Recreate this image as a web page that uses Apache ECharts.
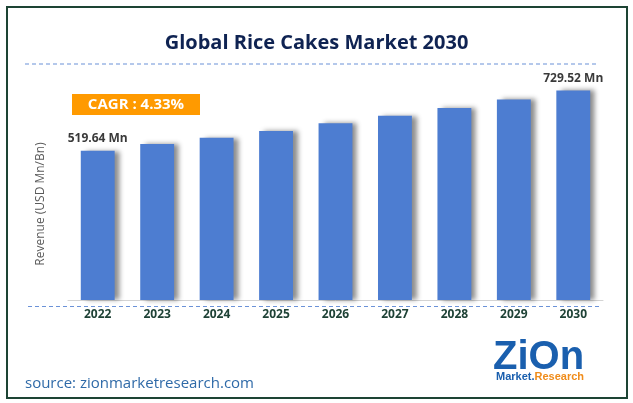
<!DOCTYPE html>
<html>
<head>
<meta charset="utf-8">
<script src="https://cdn.jsdelivr.net/npm/echarts@6/dist/echarts.min.js"></script>
<style>
html,body{margin:0;padding:0;background:#fff;}
#c{width:633px;height:403px;}
</style>
</head>
<body>
<div id="c"></div>
<script>
var years = ['2022','2023','2024','2025','2026','2027','2028','2029','2030'];
var revenue = [519.64, 543, 565, 588, 615, 641, 668, 698, 729.52];
var labeledIdx = [0, 8];
var titleText = 'Global Rice Cakes Market 2030';
var cagrText = 'CAGR : 4.33%';
var yAxisName = 'Revenue (USD Mn/Bn)';
var sourceText = 'source: zionmarketresearch.com';

var chart = echarts.init(document.getElementById('c'), null, {renderer: 'canvas'});

var data = revenue.map(function (v, i) {
  return {
    value: v,
    label: {show: labeledIdx.indexOf(i) >= 0}
  };
});

var option = {
  backgroundColor: '#ffffff',
  animation: false,
  title: {
    text: titleText,
    left: 'center',
    top: 28,
    textStyle: {
      fontFamily: 'Open Sans',
      fontWeight: 'bold',
      fontSize: 20,
      color: '#0f2352'
    }
  },
  grid: {left: 68, right: 30, top: 90, bottom: 103},
  xAxis: {
    type: 'category',
    data: years,
    axisLine: {lineStyle: {color: '#d4d4d4', width: 1}},
    axisTick: {show: false},
    axisLabel: {
      margin: 9,
      fontFamily: 'Open Sans',
      fontWeight: 'bold',
      fontSize: 12,
      color: '#1e4236'
    }
  },
  yAxis: {
    type: 'value',
    min: 0,
    max: 731,
    axisLine: {show: false},
    axisTick: {show: false},
    axisLabel: {show: false},
    splitLine: {show: false}
  },
  series: [{
    type: 'bar',
    data: data,
    barCategoryGap: '43%',
    itemStyle: {
      color: '#4d7dd1',
      shadowColor: 'rgba(0,0,0,0.45)',
      shadowBlur: 5,
      shadowOffsetX: 5,
      shadowOffsetY: 0
    },
    label: {
      position: 'top',
      distance: 6,
      formatter: function (p) { return p.value + ' Mn'; },
      fontFamily: 'Open Sans',
      fontWeight: 'bold',
      fontSize: 12,
      color: '#3a3a3a'
    }
  }],
  graphic: [
    {type: 'rect', shape: {x: 7, y: 7, width: 620, height: 391},
     style: {fill: 'none', stroke: '#1d4434', lineWidth: 2}, silent: true},
    {type: 'line', shape: {x1: 25, y1: 64, x2: 596, y2: 64},
     style: {stroke: '#6b92d8', lineWidth: 1.2, lineDash: [4, 3]}},
    {type: 'line', shape: {x1: 28, y1: 306.5, x2: 601, y2: 306.5},
     style: {stroke: '#6b92d8', lineWidth: 1.2, lineDash: [4, 3]}},
    {type: 'text', x: 41, y: 204, rotation: Math.PI / 2,
     style: {text: yAxisName, fill: '#5a5a5a', font: '12px "Open Sans"',
             textAlign: 'center', textVerticalAlign: 'middle'}},
    {type: 'rect', shape: {x: 72, y: 94, width: 128, height: 21},
     style: {fill: '#ff9a00'}},
    {type: 'text', x: 136, y: 104.5,
     style: {text: cagrText, fill: '#ffffff', font: 'bold 15px "Open Sans"',
             textAlign: 'center', textVerticalAlign: 'middle'}},
    {type: 'text', x: 25, y: 384,
     style: {text: sourceText, fill: '#2f6aa8', font: '15px "Open Sans"',
             textAlign: 'left', textVerticalAlign: 'middle'}},
    {type: 'text', x: 493, y: 358,
     style: {text: 'ZiOn', fill: '#1a5fae', font: 'bold 40px "Liberation Sans"',
             textAlign: 'left', textVerticalAlign: 'middle'}},
    {type: 'text', x: 496, y: 377,
     style: {rich: {
        a: {fill: '#1a5fae', font: 'bold 11px "Liberation Sans"'},
        b: {fill: '#f08c1a', font: 'bold 11px "Liberation Sans"'}
      }, text: '{a|Market.}{b|Research}', textAlign: 'left', textVerticalAlign: 'middle'}}
  ]
};
chart.setOption(option);
</script>
</body>
</html>
